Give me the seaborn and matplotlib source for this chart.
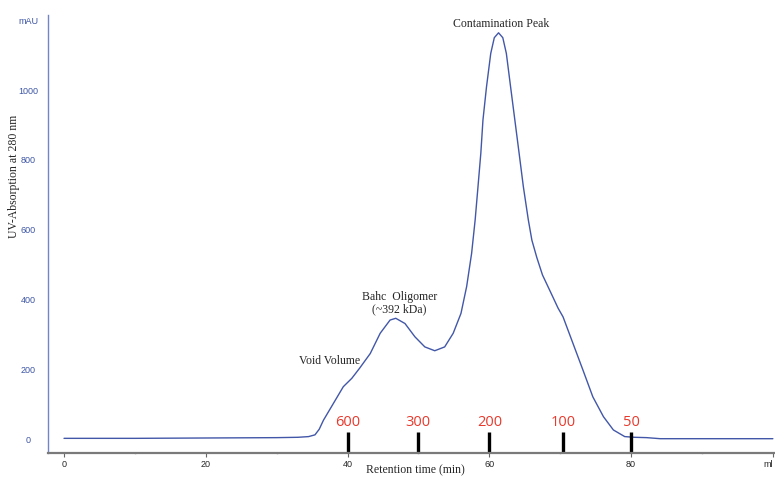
import matplotlib
matplotlib.use("Agg")
import matplotlib.pyplot as plt
import seaborn as sns
from matplotlib.ticker import FixedLocator

# chromatogram
time_min = [0, 10, 20, 30, 33, 34.5, 35.4, 36.0, 36.6, 38.0, 39.4, 40.6, 41.7, 43.2, 44.6,
            46.0, 46.8, 48.1, 49.5, 50.9, 52.3, 53.7, 54.9, 56.0, 56.8, 57.5, 58.0,
            58.4, 58.8, 59.1, 59.6, 60.2, 60.7, 61.3, 61.9, 62.4, 63.0, 63.6, 64.2,
            64.8, 65.5, 66.0, 66.7, 67.5, 68.5, 69.7, 70.4, 71.8, 73.2, 74.6, 76.1,
            77.5, 79.1, 80.5, 82.2, 84.1, 90, 100]
absorb_mau = [2, 2, 3, 4, 5, 7, 12, 28, 54, 102, 150, 174, 203, 245, 303,
              341, 346, 331, 293, 264, 253, 264, 303, 360, 437, 532, 628,
              723, 819, 914, 1009, 1105, 1150, 1164, 1150, 1105, 1009, 914, 819,
              723, 628, 570, 520, 470, 427, 375, 350, 274, 198, 121, 64,
              26, 7, 5, 4, 1, 1, 1]

# molecular weight standards (kDa)
std_pos = [40, 49.9, 60, 70.4, 80]
std_labels = ["600", "300", "200", "100", "50"]

x_ticks = [0, 20, 40, 60, 80, 100]
x_ticklabels = ["0", "20", "40", "60", "80", "ml"]
y_ticks = [0, 200, 400, 600, 800, 1000, 1200]
y_ticklabels = ["0", "200", "400", "600", "800", "1000", "mAU"]

sns.set_style("white")
plt.rcParams["font.family"] = ["Liberation Serif", "DejaVu Serif"]
tick_font = ["Liberation Sans Narrow", "Liberation Sans", "DejaVu Sans"]

fig = plt.figure(figsize=(7.75, 4.78), dpi=100)
ax = fig.add_axes([48 / 775, 25 / 478, 727 / 775, 438 / 478])

sns.lineplot(x=time_min, y=absorb_mau, ax=ax, color="#4257a8", lw=1.0)

ax.set_xlim(-2.26, 100.3)
ax.set_ylim(-40, 1215)

# standards markers
ax.vlines(std_pos, -40, 20, color="black", lw=2.4)
for xp, lab in zip(std_pos, std_labels):
    ax.text(xp, 46, lab, ha="center", va="center", color="#e8392c",
            fontsize=10.5, family=["Open Sans", "DejaVu Sans"])

# peak annotations
ax.text(61.7, 1190, "Contamination Peak", ha="center", va="center", fontsize=8.5)
ax.text(47.3, 408, "Bahc  Oligomer", ha="center", va="center", fontsize=8.5)
ax.text(47.3, 372, "(~392 kDa)", ha="center", va="center", fontsize=8.5)
ax.text(37.5, 224, "Void Volume", ha="center", va="center", fontsize=8.5)

ax.set_xlabel("Retention time (min)", fontsize=8.5)
ax.xaxis.label.set_va("center")
ax.xaxis.set_label_coords((415 - 48) / 727, (453 - 470) / 438)
ax.set_ylabel("UV-Absorption at 280 nm", fontsize=8.5)
ax.yaxis.label.set_va("center")
ax.yaxis.set_label_coords((14 - 48) / 727, (453 - 176) / 438)

ax.set_xticks(x_ticks)
ax.set_xticklabels(x_ticklabels, family=tick_font, fontsize=6.5)
ax.get_xticklabels()[-1].set_ha("right")
ax.xaxis.set_minor_locator(FixedLocator([10, 30, 50, 70, 90]))
ax.tick_params(axis="x", which="major", length=3, width=0.8, color="#666666",
               direction="out", pad=2, bottom=True)
ax.tick_params(axis="x", which="minor", length=2, width=1, color="#cccccc",
               direction="inout", bottom=True)

ax.set_yticks(y_ticks)
ax.set_yticklabels(y_ticklabels, family=tick_font, fontsize=6.5,
                   color="#3d56a6", ha="center")
ax.tick_params(axis="y", length=0, pad=14)

for s in ["top", "right"]:
    ax.spines[s].set_visible(False)
ax.spines["left"].set_color("#7385c8")
ax.spines["left"].set_linewidth(1.0)
ax.spines["bottom"].set_color("#7a7a7a")
ax.spines["bottom"].set_linewidth(1.6)

fig.savefig("out.png", dpi=100)
